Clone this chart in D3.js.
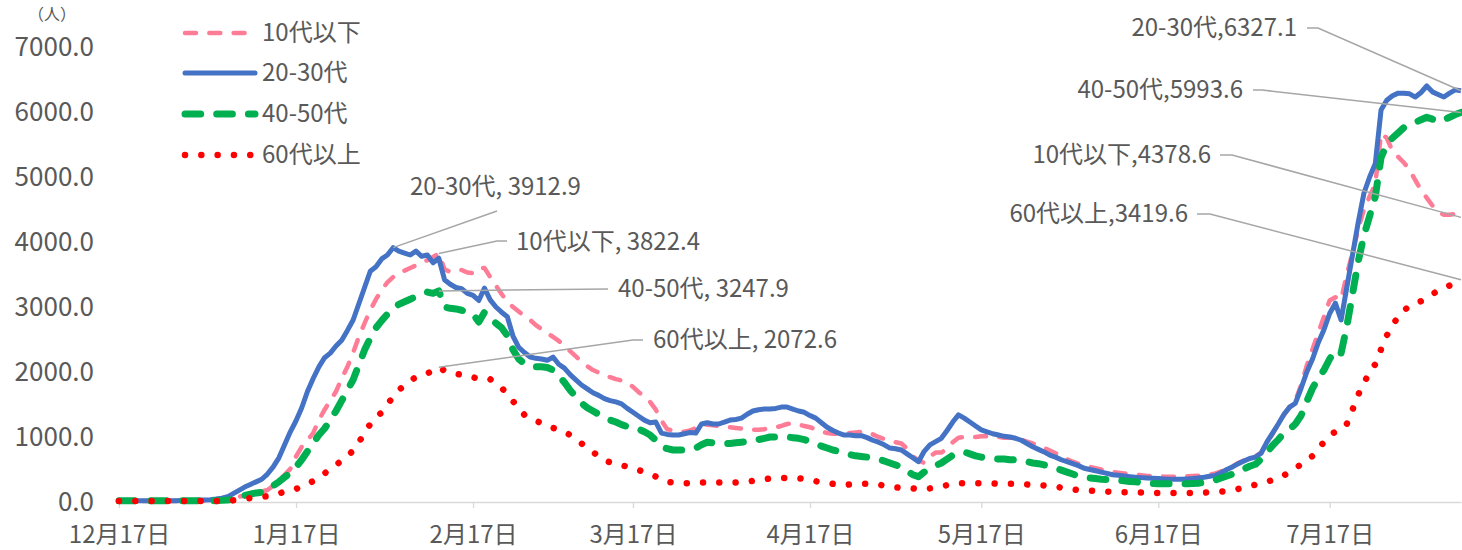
<!DOCTYPE html>
<html>
  <head>
    <meta charset="utf-8">
    <style>
      body {
        margin: 0;
        background: #fff;
        font-family: "Noto Sans CJK JP", "Noto Sans", sans-serif;
      }
      .label { fill: #595959; }
      .leader { fill: none; stroke: #a6a6a6; stroke-width: 1.5; }
      .series { fill: none; stroke-linejoin: round; }
    </style>
  </head>
  <body>
    <script src="https://cdn.jsdelivr.net/npm/d3@7"></script>
    <script>
      // daily values, 2021-12-17 .. 2022-08-09
      var startDate = new Date(2021, 11, 17);

      var under10 = [
        15,15,15,15,15,15,15,15,15,15,15,15,15,15,15,15,20,25,30,40,55,
        80,100,120,140,160,185,250,330,420,
        510,700,850,950,1060,1260,1420,1560,1700,1900,
        2080,2300,2540,2750,2950,3120,3260,3380,3460,3530,
        3560,3600,3640,3690,3720,3770,3822.4,3580,3540,3560,
        3570,3530,3520,3600,3600,3460,3330,3200,3080,3000,
        2930,2860,2800,2720,2660,2600,2540,2480,2400,2320,
        2240,2160,2090,2030,1990,1950,1920,1890,1870,1840,
        1770,1690,1620,1540,1420,1250,1120,1100,1090,1080,
        1100,1140,1200,1190,1180,1170,1160,1150,1140,1130,
        1120,1110,1110,1120,1140,1150,1170,1200,1210,1190,
        1170,1150,1120,1090,1060,1050,1050,1060,1060,1070,
        1080,1080,1040,1000,970,940,920,900,820,700,
        640,600,700,760,760,820,920,990,1000,1000,
        1000,1010,1010,1000,1000,990,990,980,960,930,
        900,870,830,790,750,700,660,620,590,560,
        540,520,500,480,460,450,440,430,420,410,
        400,400,395,390,390,390,390,395,400,405,
        410,420,440,470,510,550,600,640,670,700,
        760,900,1050,1200,1340,1470,1560,1800,2100,2350,
        2600,2850,3100,3150,3110,3500,3830,4200,4500,4700,
        4900,5670,5600,5400,5310,5220,5110,4950,4800,4680,
        4560,4460,4420,4420,4430,4378.6
      ];

      var age2030 = [
        20,20,20,20,20,20,20,20,20,20,20,25,25,25,30,30,35,45,60,
        80,130,180,230,270,310,350,430,540,680,880,
        1080,1250,1450,1700,1900,2080,2220,2290,2400,2490,
        2640,2800,3050,3300,3550,3620,3740,3800,3912.9,3860,
        3830,3800,3860,3780,3800,3680,3750,3420,3350,3300,
        3280,3210,3180,3100,3290,3110,3000,2920,2850,2550,
        2380,2300,2230,2210,2200,2180,2230,2120,2060,1960,
        1880,1800,1740,1680,1640,1590,1560,1540,1510,1440,
        1380,1320,1260,1220,1230,1060,1040,1030,1030,1050,
        1070,1060,1200,1220,1200,1200,1230,1260,1270,1290,
        1350,1400,1420,1430,1430,1440,1460,1460,1430,1400,
        1380,1330,1290,1220,1150,1100,1060,1030,1030,1020,
        1020,990,950,920,880,830,820,800,740,680,
        620,780,880,930,980,1100,1230,1340,1290,1230,
        1170,1110,1080,1050,1030,1010,1000,980,950,900,
        850,810,770,720,690,650,620,590,560,520,
        500,480,460,440,420,410,400,390,380,375,
        370,365,360,355,350,350,350,355,360,370,
        380,395,410,450,500,540,590,630,670,690,
        750,920,1060,1200,1350,1460,1520,1750,2000,2200,
        2450,2650,2900,3060,2800,3300,3800,4300,4750,5000,
        5210,6030,6180,6250,6290,6290,6280,6230,6300,6400,
        6310,6270,6230,6290,6340,6327.1
      ];

      var age4050 = [
        20,20,20,20,20,20,20,20,20,20,20,20,20,20,20,20,20,20,25,30,40,
        60,100,120,140,150,190,250,310,380,
        450,540,650,780,910,1030,1130,1260,1400,1560,
        1720,1880,2110,2340,2520,2680,2790,2890,2980,3040,
        3080,3120,3160,3200,3230,3210,3247.9,3000,2980,2970,
        2950,2920,2890,2770,2920,2830,2750,2680,2560,2340,
        2200,2130,2090,2080,2080,2070,2030,1940,1840,1720,
        1620,1520,1450,1400,1350,1300,1260,1230,1190,1160,
        1140,1120,1080,1030,950,850,820,800,800,800,
        810,830,880,920,910,910,900,900,910,920,
        930,950,960,980,1000,1000,1000,1000,990,980,
        960,930,900,860,830,800,780,760,730,710,
        700,690,680,660,630,600,570,540,480,420,
        390,460,510,560,600,660,720,750,770,740,
        710,690,680,670,660,660,650,650,640,620,
        600,590,570,550,520,490,460,430,400,380,
        370,360,350,345,340,335,325,315,310,300,
        290,285,280,280,280,280,280,280,285,290,
        300,320,340,370,400,430,470,510,550,580,
        660,760,870,960,1060,1120,1200,1330,1550,1750,
        1900,2030,2200,2340,2290,2700,3200,3700,4100,4400,
        4700,5300,5500,5600,5680,5760,5800,5840,5880,5920,
        5890,5850,5880,5920,5960,5993.6
      ];

      var over60 = [
        15,15,15,15,15,15,15,15,15,15,15,15,15,15,15,15,15,15,15,20,25,
        30,45,60,70,80,90,110,130,160,
        180,200,240,280,320,380,440,510,570,640,
        710,790,920,1060,1200,1300,1380,1500,1620,1720,
        1800,1870,1920,1950,1980,2020,2072.6,2020,1990,1970,
        1960,1950,1920,1890,1890,1890,1820,1760,1650,1550,
        1440,1340,1290,1250,1210,1170,1140,1110,1080,1030,
        970,900,830,770,700,640,610,590,570,540,
        520,490,460,430,390,340,310,300,290,290,
        290,290,300,300,310,300,300,295,300,305,
        310,325,340,350,360,370,370,370,370,365,
        355,345,320,300,290,280,270,265,270,280,
        280,280,280,270,250,235,225,220,220,210,
        200,200,210,225,240,260,285,290,290,290,
        290,290,290,285,280,280,280,280,280,270,
        265,260,255,250,240,220,200,195,185,180,
        175,170,165,160,155,150,150,150,145,145,
        140,140,140,140,140,140,140,140,140,140,
        145,150,150,160,170,185,200,225,245,265,
        285,310,340,370,410,460,520,580,630,710,
        800,930,1030,1080,1110,1200,1420,1650,1830,2000,
        2120,2350,2560,2720,2850,2950,3010,3050,3090,3150,
        3200,3250,3290,3330,3380,3419.6
      ];

      var seriesNames = ["10代以下", "20-30代", "40-50代", "60代以上"];
      var tickLabels = ["12月17日", "1月17日", "2月17日", "3月17日", "4月17日", "5月17日", "6月17日", "7月17日"];
      var yTicks = [0, 1000, 2000, 3000, 4000, 5000, 6000, 7000];

      var width = 1462, height = 550;

      var dates = under10.map(function(d, i) { return d3.timeDay.offset(startDate, i); });
      var tickDates = tickLabels.map(function(d, i) { return d3.timeMonth.offset(startDate, i); });

      var x = d3.scaleTime()
          .domain([dates[0], dates[dates.length - 1]])
          .range([119, 1461]);
      var y = d3.scaleLinear()
          .domain([0, 7000])
          .range([502, 47]);

      var styles = [
        {color: "#ff7c97", width: 4.5, dash: "11 13.3"},
        {color: "#4472c4", width: 5, dash: null},
        {color: "#00b050", width: 7, dash: "15.7 16"},
        {color: "#ff0000", width: 6.5, dash: "0.01 16.3"}
      ];
      var seriesData = [under10, age2030, age4050, over60];

      var svg = d3.select("body").append("svg")
          .attr("width", width)
          .attr("height", height);

      // x axis
      var xAxis = svg.append("g")
          .attr("transform", "translate(0,502)")
          .call(d3.axisBottom(x)
            .tickValues(tickDates)
            .tickFormat(function(d, i) { return tickLabels[i]; })
            .tickSize(6)
            .tickSizeOuter(0));
      xAxis.select(".domain").attr("stroke", "#d9d9d9").attr("stroke-width", 1.3);
      xAxis.selectAll(".tick line").attr("stroke", "#d9d9d9").attr("stroke-width", 1.3);
      xAxis.selectAll(".tick text")
          .attr("class", "label")
          .attr("y", 33)
          .attr("dy", "0.35em")
          .style("font-size", "24px")
          .style("font-family", "Noto Sans CJK JP");

      // y axis labels, no axis line
      var yAxis = svg.append("g")
          .attr("transform", "translate(94,0)")
          .call(d3.axisLeft(y)
            .tickValues(yTicks)
            .tickFormat(d3.format(".1f"))
            .tickSize(0)
            .tickPadding(0));
      yAxis.select(".domain").remove();
      yAxis.selectAll(".tick text")
          .attr("class", "label")
          .style("font-size", "26px")
          .style("font-family", "Noto Sans CJK JP");

      // unit label
      svg.append("text")
          .attr("class", "label")
          .attr("x", 52)
          .attr("y", 14)
          .attr("dy", "0.35em")
          .attr("text-anchor", "middle")
          .style("font-size", "16px")
          .text("（人）");

      // lines
      var line = d3.line()
          .x(function(d, i) { return x(dates[i]); })
          .y(function(d) { return y(d); });

      seriesData.forEach(function(values, k) {
        var s = styles[k];
        svg.append("path")
            .datum(values)
            .attr("class", "series")
            .attr("d", line)
            .attr("stroke", s.color)
            .attr("stroke-width", s.width)
            .attr("stroke-dasharray", s.dash)
            .attr("stroke-linecap", s.dash ? "round" : "butt");
      });

      // legend
      var legendY = [33, 73, 114, 155];
      var legend = svg.append("g").selectAll("g")
          .data(seriesNames)
        .enter().append("g")
          .attr("transform", function(d, i) { return "translate(0," + legendY[i] + ")"; });
      legend.append("line")
          .attr("x1", 185).attr("x2", 255)
          .attr("stroke", function(d, i) { return styles[i].color; })
          .attr("stroke-width", function(d, i) { return styles[i].width; })
          .attr("stroke-dasharray", function(d, i) { return styles[i].dash; })
          .attr("stroke-linecap", "round");
      legend.append("text")
          .attr("class", "label")
          .attr("x", 262)
          .attr("dy", "0.35em")
          .style("font-size", "24px")
          .text(function(d) { return d; });

      // data labels with leader lines
      var peakIdx = 56, lastIdx = dates.length - 1;
      var callouts = [
        {k: 1, i: 48, text: "20-30代, 3912.9", tx: 410, ty: 187, anchor: "start", pts: [[497, 211]]},
        {k: 0, i: peakIdx, text: "10代以下, 3822.4", tx: 516, ty: 242, anchor: "start", pts: [[507, 241], [497, 241]]},
        {k: 2, i: peakIdx, text: "40-50代, 3247.9", tx: 618, ty: 289, anchor: "start", pts: [[608, 289]]},
        {k: 3, i: peakIdx, text: "60代以上, 2072.6", tx: 653, ty: 340, anchor: "start", pts: [[643, 340], [633, 340]]},
        {k: 1, i: lastIdx, text: "20-30代,6327.1", tx: 1297, ty: 28, anchor: "end", pts: [[1307, 28], [1318, 28]]},
        {k: 2, i: lastIdx, text: "40-50代,5993.6", tx: 1243, ty: 90, anchor: "end", pts: [[1253, 90], [1262, 90]]},
        {k: 0, i: lastIdx, text: "10代以下,4378.6", tx: 1211, ty: 155, anchor: "end", pts: [[1220, 155], [1232, 155]]},
        {k: 3, i: lastIdx, text: "60代以上,3419.6", tx: 1188, ty: 214, anchor: "end", pts: [[1197, 214], [1210, 214]]}
      ];

      callouts.forEach(function(c) {
        var pts = c.pts.concat([[x(dates[c.i]), y(seriesData[c.k][c.i])]]);
        svg.append("path")
            .attr("class", "leader")
            .attr("d", d3.line()(pts));
        svg.append("text")
            .attr("class", "label")
            .attr("x", c.tx)
            .attr("y", c.ty)
            .attr("dy", "0.35em")
            .attr("text-anchor", c.anchor)
            .style("font-size", "24px")
            .text(c.text);
      });
    </script>
  </body>
</html>
